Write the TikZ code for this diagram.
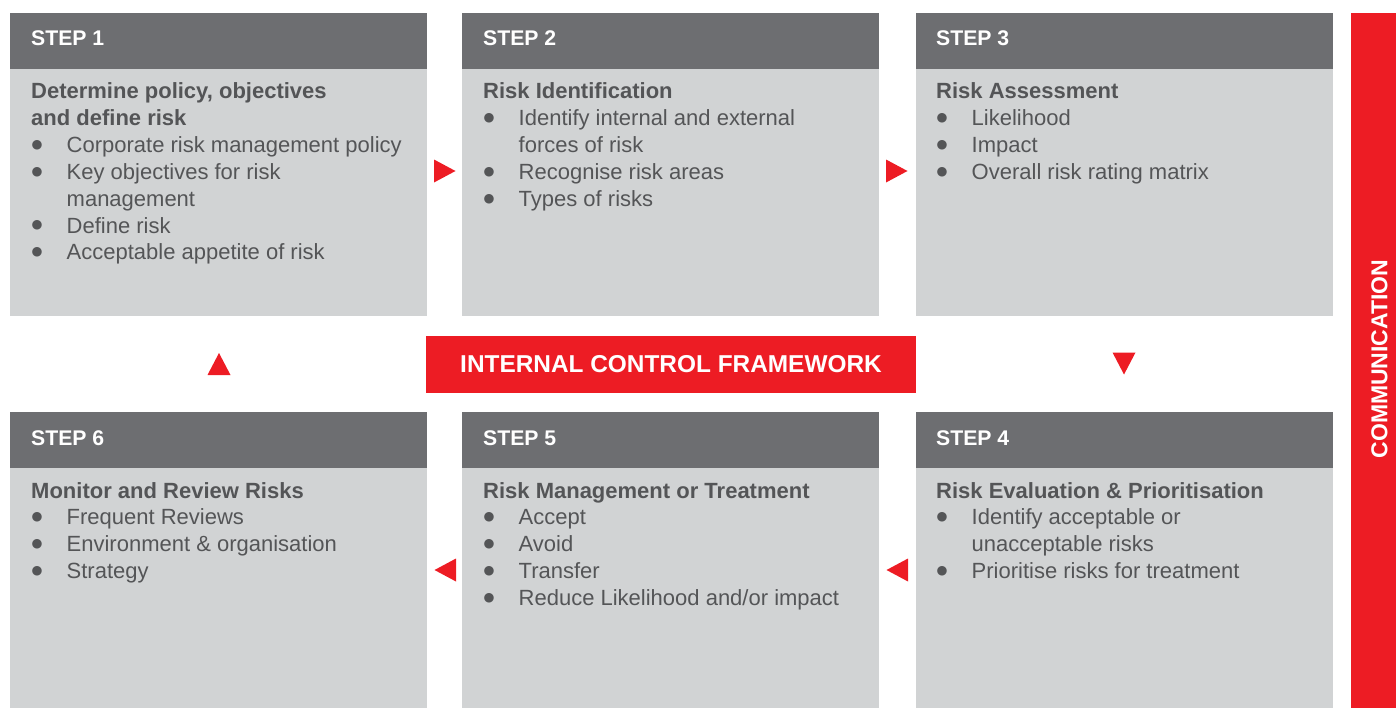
\documentclass[tikz,border=0pt]{standalone}
\usepackage{fontspec}
\setmainfont{Liberation Sans}
\newfontfamily\dotfont{DejaVu Sans}
\definecolor{hdrgray}{HTML}{6D6E71}
\definecolor{bodygray}{HTML}{D1D3D4}
\definecolor{txtgray}{HTML}{545557}
\definecolor{brandred}{HTML}{ED1C24}
% list bullet: a round dot set in its own small size, then the hanging indent
\newcommand{\bul}{\makebox[35.5bp][l]{\hspace{0.5bp}\raisebox{4.2bp}{\dotfont\fontsize{12.5bp}{14bp}\selectfont ●}}}
\newcommand{\ind}{\hspace*{35.5bp}}
\tikzset{
  hdrbox/.style={fill=hdrgray, draw=none, inner sep=0, anchor=north west,
    minimum width=417bp, minimum height=55.5bp},
  bodybox/.style={fill=bodygray, draw=none, inner sep=0, anchor=north west,
    minimum width=417bp},
  hdrtext/.style={text=white, inner sep=0, anchor=base west,
    font=\fontsize{21.2bp}{25bp}\selectfont\bfseries},
  bodytext/.style={text=txtgray, inner sep=0, anchor=base west,
    font=\fontsize{22bp}{26.8bp}\selectfont},
  marker/.style={fill=brandred, draw=none},
}
\begin{document}
\begin{tikzpicture}[x=1bp, y=-1bp]
\useasboundingbox (0,0) rectangle (1396,708);

% step panels: header strip and grey body
\foreach \nm/\x/\y/\h in {s1/10/13/247, s2/462/13/247, s3/916/13/247,
                          s6/10/412/240.5, s5/462/412/240.5, s4/916/412/240.5} {
  \node[hdrbox]  (\nm h) at (\x,\y) {};
  \node[bodybox, minimum height=\h bp] (\nm b) at (\x,\y+55.5) {};
}

% header labels
\node[hdrtext] (t1) at (31,46)   {STEP 1};
\node[hdrtext] (t2) at (483,46)  {STEP 2};
\node[hdrtext] (t3) at (936,46)  {STEP 3};
\node[hdrtext] (t6) at (31,445)  {STEP 6};
\node[hdrtext] (t5) at (483,445) {STEP 5};
\node[hdrtext] (t4) at (936,445) {STEP 4};

% panel contents
\node[bodytext] (c1) at (31,99) {\begin{tabular}[t]{@{}l@{}}
  \bfseries Determine policy, objectives\\
  \bfseries and define risk\\
  \bul Corporate risk management policy\\
  \bul Key objectives for risk\\
  \ind management\\
  \bul Define risk\\
  \bul Acceptable appetite of risk
\end{tabular}};
\node[bodytext] (c2) at (483,99) {\begin{tabular}[t]{@{}l@{}}
  \bfseries Risk Identification\\
  \bul Identify internal and external\\
  \ind forces of risk\\
  \bul Recognise risk areas\\
  \bul Types of risks
\end{tabular}};
\node[bodytext] (c3) at (936,99) {\begin{tabular}[t]{@{}l@{}}
  \bfseries Risk Assessment\\
  \bul Likelihood\\
  \bul Impact\\
  \bul Overall risk rating matrix
\end{tabular}};
\node[bodytext] (c6) at (31,498) {\begin{tabular}[t]{@{}l@{}}
  \bfseries Monitor and Review Risks\\
  \bul Frequent Reviews\\
  \bul Environment \& organisation\\
  \bul Strategy
\end{tabular}};
\node[bodytext] (c5) at (483,498) {\begin{tabular}[t]{@{}l@{}}
  \bfseries Risk Management or Treatment\\
  \bul Accept\\
  \bul Avoid\\
  \bul Transfer\\
  \bul Reduce Likelihood and/or impact
\end{tabular}};
\node[bodytext] (c4) at (936,498) {\begin{tabular}[t]{@{}l@{}}
  \bfseries Risk Evaluation \& Prioritisation\\
  \bul Identify acceptable or\\
  \ind unacceptable risks\\
  \bul Prioritise risks for treatment
\end{tabular}};

% central framework banner
\node[fill=brandred, inner sep=0, minimum width=490bp, minimum height=57bp,
      text=white, font=\fontsize{24.4bp}{28bp}\selectfont\bfseries]
  (icf) at (671,364.5) {INTERNAL CONTROL FRAMEWORK};

% communication bar on the right
\node[fill=brandred, inner sep=0, anchor=north west,
      minimum width=45bp, minimum height=695bp] (comm) at (1351,13) {};
\node[rotate=90, text=white, inner sep=0,
      font=\fontsize{23bp}{26bp}\selectfont\bfseries]
  (commtxt) at (1379.5,359) {COMMUNICATION};

% flow markers between the panels
\fill[marker] (434,159.5) -- (455.5,171) -- (434,182.5) -- cycle;
\fill[marker] (886,159.5) -- (907.5,171) -- (886,182.5) -- cycle;
\fill[marker] (1112.5,352.5) -- (1135.5,352.5) -- (1124,374.5) -- cycle;
\fill[marker] (207.5,375) -- (230.5,375) -- (219,353) -- cycle;
\fill[marker] (908,558.5) -- (886.5,570) -- (908,581.5) -- cycle;
\fill[marker] (456,558.5) -- (434.5,570) -- (456,581.5) -- cycle;
\end{tikzpicture}
\end{document}
